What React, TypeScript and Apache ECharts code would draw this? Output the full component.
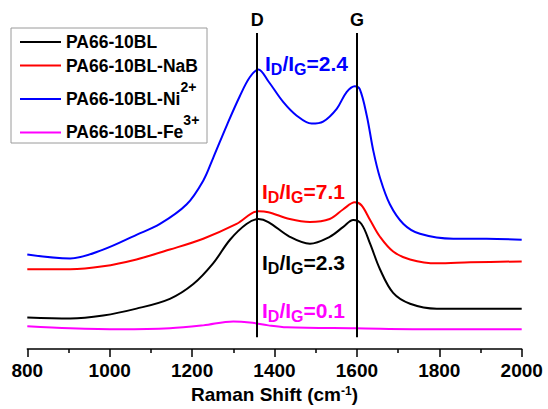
import React, { useEffect, useRef } from "react";
import * as echarts from "echarts";

// Raman spectra (shift cm-1, intensity a.u.)
const pa66: [number, number][] = [
  [800, 32], [904, 31], [984, 34], [1065, 41], [1146, 51], [1203, 66], [1251, 87], [1292, 111],
  [1332, 127], [1361, 132], [1385, 129], [1437, 114], [1486, 107], [1534, 114], [1567, 124],
  [1591, 131], [1611, 127], [1632, 107], [1656, 81], [1688, 57], [1729, 46], [1794, 41],
  [1875, 41], [2000, 41],
];
const pa66NaB: [number, number][] = [
  [800, 81], [904, 81], [984, 84], [1065, 91], [1146, 101], [1227, 112], [1308, 127], [1361, 140],
  [1385, 139], [1437, 132], [1486, 129], [1534, 132], [1567, 142], [1595, 149], [1611, 146],
  [1632, 131], [1656, 114], [1688, 99], [1729, 91], [1794, 87], [1875, 88], [2000, 89],
];
const pa66Ni: [number, number][] = [
  [800, 96], [904, 92], [984, 101], [1065, 116], [1122, 127], [1187, 147], [1227, 171], [1251, 194],
  [1284, 227], [1316, 257], [1340, 276], [1361, 284], [1385, 272], [1421, 251], [1454, 237],
  [1490, 229], [1518, 231], [1551, 244], [1575, 261], [1595, 267], [1607, 264], [1624, 237],
  [1640, 201], [1656, 174], [1680, 147], [1713, 127], [1753, 117], [1834, 112], [1915, 112], [2000, 111],
];
const pa66Fe: [number, number][] = [
  [800, 23], [904, 21], [1025, 20], [1146, 21], [1227, 24], [1300, 28], [1340, 27], [1385, 24],
  [1430, 22], [1595, 21], [1794, 20], [2000, 20],
];

const seriesData = [pa66, pa66NaB, pa66Ni, pa66Fe];
const seriesNames = ["PA66-10BL", "PA66-10BL-NaB", "PA66-10BL-Ni", "PA66-10BL-Fe"];
const seriesSup = ["", "", "2+", "3+"];
const seriesColors = ["#000000", "#ff0000", "#0000ff", "#ff00ff"];
const ratioLabels = ["2.3", "7.1", "2.4", "0.1"];
const peakShifts = [1358, 1600];
const peakNames = ["D", "G"];
const xMin = 800;
const xMax = 2000;
const xInterval = 200;
const yMin = 0;
const yMax = 321;
const peakLineRange = [12, 321];

const FONT = "Liberation Sans";

// layout (pixels) for hand-placed texts
const ratioPos: [number, number][] = [[262, 264], [262, 193], [265, 65], [262, 312]];
const legendRows = [42, 65.5, 99, 132.5];

export default function App() {
  const ref = useRef<HTMLDivElement>(null);
  useEffect(() => {
    if (!ref.current) return;
    const chart = echarts.init(ref.current, undefined, { renderer: "svg" });

    const series: any[] = seriesData.map((d, i) => ({
      type: "line",
      name: seriesNames[i] + seriesSup[i],
      data: d,
      showSymbol: false,
      smooth: 0.35,
      lineStyle: { color: seriesColors[i], width: 2 },
      itemStyle: { color: seriesColors[i] },
      z: 3,
    }));
    series[0].markLine = {
      silent: true,
      symbol: "none",
      lineStyle: { color: "#000", width: 2, type: "solid" },
      label: {
        show: true,
        position: "end",
        formatter: "{b}",
        color: "#000",
        fontSize: 18,
        fontWeight: "bold",
        fontFamily: FONT,
        distance: 4,
      },
      data: peakShifts.map((p, i) => [
        { name: peakNames[i], coord: [p, peakLineRange[0]] },
        { coord: [p, peakLineRange[1]] },
      ]),
    };

    const graphics: any[] = [];
    graphics.push({
      type: "rect",
      shape: { x: 11, y: 28, width: 196, height: 115 },
      style: { fill: "#fff", stroke: "#9a9a9a", lineWidth: 1 },
      z: 10,
    });
    seriesNames.forEach((n, i) => {
      const cy = legendRows[i];
      graphics.push({
        type: "line",
        shape: { x1: 20, y1: cy, x2: 61, y2: cy },
        style: { stroke: seriesColors[i], lineWidth: 2 },
        z: 11,
      });
      const sup = seriesSup[i];
      graphics.push({
        type: "text",
        x: 66,
        y: sup ? cy - 5.5 : cy,
        style: {
          text: sup ? `{m|${n}}{s|${sup}}` : `{m|${n}}`,
          align: "left",
          verticalAlign: "middle",
          fill: "#000",
          rich: {
            m: { fontSize: 17.5, fontWeight: "bold", fontFamily: FONT, fill: "#000", verticalAlign: "bottom" },
            s: { fontSize: 14, fontWeight: "bold", fontFamily: FONT, fill: "#000", verticalAlign: "top", lineHeight: 28 },
          },
        },
        z: 11,
      });
    });
    ratioLabels.forEach((r, i) => {
      const c = seriesColors[i];
      graphics.push({
        type: "text",
        x: ratioPos[i][0],
        y: ratioPos[i][1],
        style: {
          text: `{a|I}{b|D}{a|/I}{b|G}{a|=${r}}`,
          align: "left",
          verticalAlign: "middle",
          fill: c,
          rich: {
            a: { fontSize: 21, fontWeight: "bold", fontFamily: FONT, fill: c, verticalAlign: "top" },
            b: { fontSize: 16, fontWeight: "bold", fontFamily: FONT, fill: c, verticalAlign: "bottom", lineHeight: 25 },
          },
        },
        z: 12,
      });
    });

    chart.setOption({
      animation: false,
      backgroundColor: "#fff",
      grid: { left: 27.3, right: 26.3, top: 33, bottom: 55 },
      xAxis: {
        type: "value",
        min: xMin,
        max: xMax,
        interval: xInterval,
        name: "{a|Raman Shift (cm}{s|-1}{a|)}",
        nameLocation: "middle",
        nameGap: 36,
        nameTextStyle: {
          rich: {
            a: { fontSize: 19, fontWeight: "bold", fontFamily: FONT, color: "#000", verticalAlign: "bottom" },
            s: { fontSize: 12, fontWeight: "bold", fontFamily: FONT, color: "#000", verticalAlign: "top" },
          },
        },
        axisLine: { show: true, onZero: false, lineStyle: { color: "#000", width: 1.5 } },
        axisTick: { show: true, inside: false, length: 8, lineStyle: { color: "#000", width: 1.5 } },
        minorTick: { show: true, splitNumber: 2, length: 4, lineStyle: { color: "#000", width: 1.5 } },
        axisLabel: {
          color: "#000",
          fontSize: 19,
          fontWeight: "bold",
          fontFamily: FONT,
          margin: 12,
          formatter: (v: number) => String(v),
        },
        splitLine: { show: false },
      },
      yAxis: {
        type: "value",
        min: yMin,
        max: yMax,
        show: false,
        splitLine: { show: false },
      },
      series,
      graphic: graphics,
    });
    return () => chart.dispose();
  }, []);
  return (
    <div
      ref={ref}
      style={{ position: "fixed", left: 0, top: 0, width: 548, height: 409, background: "#fff" }}
    />
  );
}
